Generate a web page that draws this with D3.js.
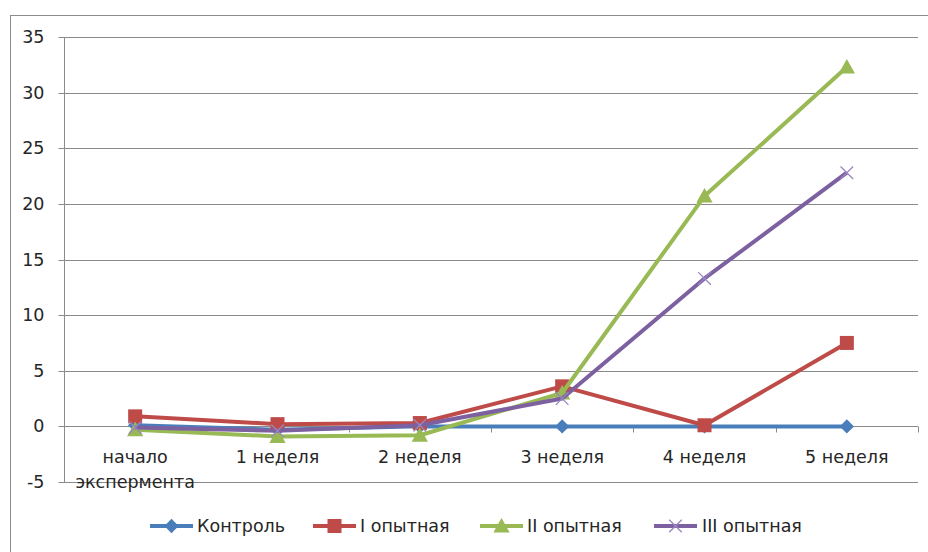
<!DOCTYPE html>
<html>
<head>
<meta charset="utf-8">
<script src="https://cdn.jsdelivr.net/npm/d3@7"></script>
<style>
  html, body { margin: 0; padding: 0; background: #fff; }
  svg { display: block; font-family: "DejaVu Sans", "Noto Sans", sans-serif; }
</style>
</head>
<body>
<svg id="chart" width="928" height="552"></svg>
<script>
// Weekly measurements per group
const categories = ["начало экспермента", "1 неделя", "2 неделя", "3 неделя", "4 неделя", "5 неделя"];
const seriesNames = ["Контроль", "I опытная", "II опытная", "III опытная"];
const control = [0.1, -0.3, 0, 0, 0, 0];
const group1 = [0.9, 0.2, 0.3, 3.6, 0.1, 7.5];
const group2 = [-0.3, -0.9, -0.8, 3.0, 20.7, 32.3];
const group3 = [-0.1, -0.4, 0.1, 2.5, 13.3, 22.8];
const yTicks = [-5, 0, 5, 10, 15, 20, 25, 30, 35];

const colors = ["#4A7EBB", "#BE4B48", "#98B954", "#7D60A0"];
const markers = ["diamond", "square", "triangle", "cross"];
const series = [control, group1, group2, group3].map((values, i) => ({
  name: seriesNames[i], values, color: colors[i], marker: markers[i]
}));

const svg = d3.select("#chart");
const plotLeft = 64, plotRight = 918, plotTop = 37, plotBottom = 482;
const textColor = "#262626";
const fontSize = "17.5px";

// Outer chart frame
svg.append("rect")
  .attr("x", 10.5).attr("y", 15.5)
  .attr("width", 940).attr("height", 560)
  .attr("fill", "none").attr("stroke", "#8c8c8c").attr("stroke-width", 1);

const x = d3.scaleBand().domain(categories).range([plotLeft, plotRight]).paddingInner(0).paddingOuter(0);
const y = d3.scaleLinear().domain([-5, 35]).range([plotBottom, plotTop]);
const cx = d => x(d) + x.bandwidth() / 2;

// Horizontal gridlines
svg.append("g")
  .selectAll("line")
  .data(yTicks)
  .join("line")
  .attr("x1", plotLeft).attr("x2", plotRight)
  .attr("y1", d => Math.round(y(d)) + 0.5).attr("y2", d => Math.round(y(d)) + 0.5)
  .attr("stroke", "#8a8a8a").attr("stroke-width", 1);

// Value axis
const yAxis = d3.axisLeft(y).tickValues(yTicks).tickSize(6).tickPadding(14).tickFormat(d => String(d));
const gy = svg.append("g").attr("transform", `translate(${plotLeft + 0.5},0)`).call(yAxis);
gy.select(".domain").attr("stroke", "#8a8a8a").attr("d", `M0,${Math.round(y(35)) + 0.5}V${Math.round(y(-5)) + 0.5}`);
gy.selectAll(".tick line").attr("stroke", "#8a8a8a");
gy.selectAll(".tick").attr("transform", d => `translate(0,${Math.round(y(d)) + 0.5})`);
gy.selectAll(".tick text").attr("fill", textColor).style("font-size", fontSize).style("font-family", "DejaVu Sans");

// Category axis crossing at zero
const y0 = Math.round(y(0)) + 0.5;
const xAxisG = svg.append("g");
const boundaries = d3.range(categories.length + 1).map(i => plotLeft + i * x.bandwidth());
xAxisG.selectAll("line.tk")
  .data(boundaries)
  .join("line")
  .attr("class", "tk")
  .attr("x1", d => Math.round(d) + 0.5).attr("x2", d => Math.round(d) + 0.5)
  .attr("y1", y0).attr("y2", y0 + 6)
  .attr("stroke", "#8a8a8a");
xAxisG.append("line")
  .attr("x1", plotLeft).attr("x2", plotRight).attr("y1", y0).attr("y2", y0)
  .attr("stroke", "#8a8a8a");

// Category labels (the first, long label is split over two lines)
xAxisG.selectAll("text")
  .data(categories)
  .join("text")
  .attr("x", d => cx(d))
  .attr("y", 463)
  .attr("text-anchor", "middle")
  .attr("fill", textColor)
  .style("font-size", fontSize)
  .each(function(d, i) {
    const t = d3.select(this);
    const parts = i === 0 ? d.split(" ") : [d];
    parts.forEach((p, k) => t.append("tspan").attr("x", cx(d)).attr("dy", k === 0 ? 0 : 25).text(p));
  });

// Marker drawing
function drawMarker(g, type, color, size) {
  if (type === "diamond") {
    const s = size * 0.55;
    g.append("path").attr("d", `M0,${-s}L${s},0L0,${s}L${-s},0Z`).attr("fill", color);
  } else if (type === "square") {
    const s = size * 0.5;
    g.append("rect").attr("x", -s).attr("y", -s).attr("width", 2 * s).attr("height", 2 * s).attr("fill", color);
  } else if (type === "triangle") {
    const s = size * 0.58;
    g.append("path").attr("d", `M0,${-s}L${s},${s * 0.8}L${-s},${s * 0.8}Z`).attr("fill", color);
  } else {
    const s = size * 0.45;
    g.append("path").attr("d", `M${-s},${-s}L${s},${s}M${-s},${s}L${s},${-s}`)
      .attr("stroke", "#9a86c0").attr("stroke-width", 1.3).attr("fill", "none");
  }
}

const line = d3.line().x((d, i) => cx(categories[i])).y(d => y(d));

series.forEach(s => {
  const g = svg.append("g");
  g.append("path")
    .datum(s.values)
    .attr("d", line)
    .attr("fill", "none")
    .attr("stroke", s.color)
    .attr("stroke-width", 4)
    .attr("stroke-linejoin", "round");
  s.values.forEach((v, i) => {
    const mg = g.append("g").attr("transform", `translate(${cx(categories[i])},${y(v)})`);
    drawMarker(mg, s.marker, s.color, s.marker === "diamond" ? 13 : 14);
  });
});

// Legend
const legendItems = [
  { x: 150, tx: 197 },
  { x: 313, tx: 360 },
  { x: 480, tx: 527 },
  { x: 654, tx: 702 }
];
const ly = 526;
series.forEach((s, i) => {
  const it = legendItems[i];
  const g = svg.append("g");
  g.append("line")
    .attr("x1", it.x).attr("x2", it.x + 43)
    .attr("y1", ly).attr("y2", ly)
    .attr("stroke", s.color).attr("stroke-width", 4);
  const mg = g.append("g").attr("transform", `translate(${it.x + 21.5},${ly})`);
  drawMarker(mg, s.marker, s.color, s.marker === "diamond" ? 13 : 14);
  g.append("text")
    .attr("x", it.tx).attr("y", ly + 6)
    .attr("fill", textColor)
    .style("font-size", fontSize)
    .text(s.name);
});
</script>
</body>
</html>
